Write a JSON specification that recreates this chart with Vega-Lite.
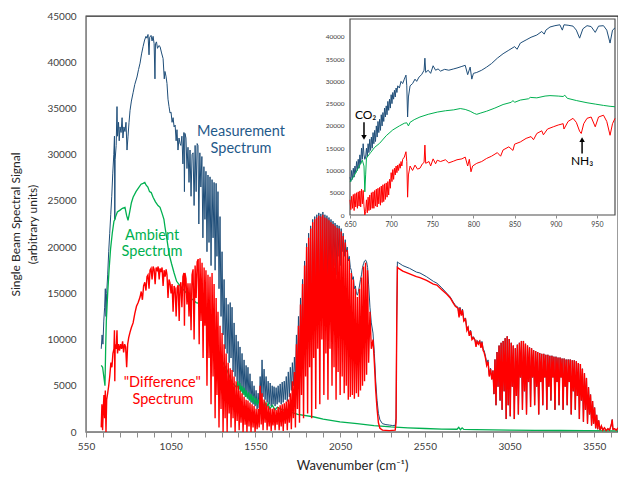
{
  "$schema": "https://vega.github.io/schema/vega-lite/v6.json",
  "width": 532,
  "height": 416,
  "autosize": {"type": "none"},
  "padding": {"left": 86, "top": 16, "right": 0, "bottom": 45},
  "config": {
    "font": "Lato",
    "view": {"stroke": "#262626", "strokeWidth": 1.3},
    "axis": {"grid": false, "labelFont": "Lato", "titleFont": "Lato", "labelColor": "#404040", "titleColor": "#262626", "domainColor": "#8c8c8c", "tickColor": "#8c8c8c", "titleFontWeight": "normal"}
  },
  "datasets": {
    "meas": [
      {"w":640,"v":9000},{"w":645,"v":10500},{"w":650,"v":9500},{"w":655,"v":12000},{"w":660,"v":13500},{"w":664,"v":15500},{"w":668,"v":12500},{"w":672,"v":15000},{"w":678,"v":17000},{"w":684,"v":19500},{"w":690,"v":21500},{"w":696,"v":23500},{"w":702,"v":25500},{"w":708,"v":28000},{"w":714,"v":30000},{"w":718,"v":32000},{"w":720,"v":23000},{"w":722,"v":29500},{"w":728,"v":31000},{"w":733,"v":35200},{"w":736,"v":32000},{"w":742,"v":33500},{"w":746,"v":31500},{"w":751,"v":33000},{"w":757,"v":32400},{"w":763,"v":34000},{"w":768,"v":31800},{"w":774,"v":33000},{"w":780,"v":32500},{"w":786,"v":33500},{"w":792,"v":30500},{"w":798,"v":32000},{"w":804,"v":33500},{"w":810,"v":34800},{"w":818,"v":35800},{"w":828,"v":36700},{"w":838,"v":37600},{"w":851,"v":38400},{"w":860,"v":39200},{"w":869,"v":39900},{"w":878,"v":40900},{"w":887,"v":41700},{"w":896,"v":42400},{"w":904,"v":42800},{"w":910,"v":42600},{"w":916,"v":43000},{"w":922,"v":40800},{"w":926,"v":42700},{"w":934,"v":42900},{"w":940,"v":42300},{"w":946,"v":42800},{"w":952,"v":42000},{"w":957,"v":38200},{"w":960,"v":42000},{"w":966,"v":42200},{"w":972,"v":41500},{"w":980,"v":41800},{"w":987,"v":41700},{"w":996,"v":41000},{"w":1005,"v":40400},{"w":1012,"v":38200},{"w":1016,"v":39000},{"w":1022,"v":38500},{"w":1028,"v":37700},{"w":1034,"v":36000},{"w":1040,"v":35200},{"w":1046,"v":34500},{"w":1052,"v":34600},{"w":1058,"v":33500},{"w":1064,"v":34000},{"w":1070,"v":33000},{"w":1076,"v":33200},{"w":1082,"v":31500},{"w":1087,"v":32700},{"w":1093,"v":30500},{"w":1099,"v":31800},{"w":1105,"v":31200},{"w":1110,"v":31000},{"w":1116,"v":32000},{"w":1122,"v":29000},{"w":1128,"v":32400},{"w":1131,"v":26000},{"w":1134,"v":32300},{"w":1140,"v":31800},{"w":1146,"v":28500},{"w":1152,"v":30800},{"w":1158,"v":27000},{"w":1164,"v":30500},{"w":1170,"v":25500},{"w":1176,"v":30000},{"w":1182,"v":30200},{"w":1188,"v":24500},{"w":1194,"v":31000},{"w":1200,"v":26000},{"w":1206,"v":31200},{"w":1211,"v":31000},{"w":1216,"v":22500},{"w":1222,"v":30200},{"w":1228,"v":26500},{"w":1234,"v":29800},{"w":1240,"v":21000},{"w":1246,"v":28700},{"w":1252,"v":23000},{"w":1258,"v":28200},{"w":1264,"v":19500},{"w":1270,"v":27800},{"w":1276,"v":20500},{"w":1282,"v":27600},{"w":1288,"v":18000},{"w":1294,"v":27300},{"w":1300,"v":21000},{"w":1306,"v":27000},{"w":1312,"v":17500},{"w":1318,"v":26900},{"w":1323,"v":19000},{"w":1329,"v":26000},{"w":1335,"v":15500},{"w":1341,"v":23300},{"w":1347,"v":12500},{"w":1353,"v":19500},{"w":1359,"v":10500},{"w":1365,"v":16500},{"w":1371,"v":9000},{"w":1377,"v":14500},{"w":1383,"v":8500},{"w":1389,"v":13800},{"w":1395,"v":7500},{"w":1401,"v":14000},{"w":1406,"v":8000},{"w":1412,"v":13500},{"w":1418,"v":6500},{"w":1424,"v":11800},{"w":1430,"v":6000},{"w":1436,"v":10500},{"w":1442,"v":5500},{"w":1448,"v":9800},{"w":1454,"v":5000},{"w":1459,"v":9200},{"w":1465,"v":4500},{"w":1471,"v":8500},{"w":1477,"v":4200},{"w":1483,"v":7800},{"w":1489,"v":4000},{"w":1495,"v":7200},{"w":1500,"v":3800},{"w":1506,"v":7000},{"w":1512,"v":3500},{"w":1518,"v":6300},{"w":1524,"v":3200},{"w":1530,"v":5500},{"w":1536,"v":3000},{"w":1542,"v":5000},{"w":1548,"v":2800},{"w":1554,"v":4500},{"w":1560,"v":2500},{"w":1566,"v":4200},{"w":1572,"v":2600},{"w":1578,"v":6000},{"w":1584,"v":3500},{"w":1589,"v":7800},{"w":1595,"v":3800},{"w":1601,"v":6800},{"w":1607,"v":3500},{"w":1613,"v":6000},{"w":1619,"v":3200},{"w":1625,"v":5500},{"w":1631,"v":3000},{"w":1637,"v":5300},{"w":1643,"v":2800},{"w":1649,"v":5000},{"w":1654,"v":3000},{"w":1660,"v":4900},{"w":1666,"v":2800},{"w":1672,"v":4800},{"w":1678,"v":3000},{"w":1684,"v":5000},{"w":1690,"v":3200},{"w":1696,"v":5200},{"w":1702,"v":3000},{"w":1708,"v":5400},{"w":1714,"v":3200},{"w":1720,"v":5500},{"w":1726,"v":3500},{"w":1732,"v":6000},{"w":1738,"v":3300},{"w":1744,"v":6500},{"w":1750,"v":3800},{"w":1756,"v":7000},{"w":1762,"v":4500},{"w":1768,"v":7500},{"w":1774,"v":5000},{"w":1780,"v":8100},{"w":1786,"v":5500},{"w":1792,"v":10500},{"w":1798,"v":6500},{"w":1804,"v":12500},{"w":1810,"v":7000},{"w":1816,"v":14500},{"w":1822,"v":9000},{"w":1828,"v":16500},{"w":1834,"v":8000},{"w":1840,"v":18500},{"w":1846,"v":11000},{"w":1852,"v":20400},{"w":1858,"v":9000},{"w":1864,"v":21500},{"w":1870,"v":12000},{"w":1876,"v":22300},{"w":1882,"v":10000},{"w":1888,"v":23000},{"w":1894,"v":13000},{"w":1900,"v":23300},{"w":1906,"v":11000},{"w":1912,"v":23500},{"w":1918,"v":14000},{"w":1924,"v":23700},{"w":1930,"v":12000},{"w":1936,"v":23600},{"w":1942,"v":15000},{"w":1948,"v":23800},{"w":1954,"v":13500},{"w":1960,"v":23500},{"w":1966,"v":16000},{"w":1972,"v":23400},{"w":1978,"v":14500},{"w":1984,"v":23200},{"w":1990,"v":17000},{"w":1996,"v":23000},{"w":2002,"v":16000},{"w":2008,"v":22800},{"w":2014,"v":18000},{"w":2020,"v":22600},{"w":2026,"v":17000},{"w":2032,"v":22400},{"w":2038,"v":19000},{"w":2044,"v":22300},{"w":2050,"v":18000},{"w":2056,"v":22000},{"w":2062,"v":19500},{"w":2068,"v":21500},{"w":2074,"v":19000},{"w":2080,"v":20800},{"w":2086,"v":19500},{"w":2092,"v":20000},{"w":2098,"v":18500},{"w":2104,"v":19000},{"w":2110,"v":17800},{"w":2116,"v":17500},{"w":2122,"v":16500},{"w":2128,"v":16800},{"w":2134,"v":15500},{"w":2140,"v":15800},{"w":2146,"v":15000},{"w":2152,"v":14800},{"w":2158,"v":15200},{"w":2164,"v":15800},{"w":2170,"v":16500},{"w":2176,"v":17000},{"w":2182,"v":17800},{"w":2188,"v":18200},{"w":2194,"v":18500},{"w":2200,"v":18600},{"w":2206,"v":18400},{"w":2212,"v":17800},{"w":2218,"v":16000},{"w":2226,"v":13500},{"w":2234,"v":11800},{"w":2244,"v":10700},{"w":2252,"v":8500},{"w":2260,"v":5500},{"w":2268,"v":3400},{"w":2276,"v":2000},{"w":2285,"v":1300},{"w":2300,"v":900},{"w":2320,"v":800},{"w":2340,"v":750},{"w":2360,"v":700},{"w":2375,"v":720},{"w":2380,"v":1500},{"w":2384,"v":12000},{"w":2388,"v":18400},{"w":2395,"v":18300},{"w":2420,"v":18000},{"w":2460,"v":17700},{"w":2500,"v":17300},{"w":2521,"v":17200},{"w":2560,"v":16800},{"w":2600,"v":16300},{"w":2621,"v":16100},{"w":2650,"v":15600},{"w":2680,"v":15000},{"w":2700,"v":14600},{"w":2716,"v":14100},{"w":2730,"v":13700},{"w":2745,"v":13500},{"w":2752,"v":12600},{"w":2757,"v":13500},{"w":2765,"v":12800},{"w":2772,"v":13300},{"w":2780,"v":12200},{"w":2790,"v":12300},{"w":2798,"v":11200},{"w":2805,"v":11400},{"w":2812,"v":10600},{"w":2820,"v":11000},{"w":2828,"v":10200},{"w":2837,"v":10300},{"w":2846,"v":10000},{"w":2852,"v":9400},{"w":2858,"v":9900},{"w":2866,"v":9700},{"w":2874,"v":9900},{"w":2881,"v":9300},{"w":2887,"v":9800},{"w":2894,"v":9000},{"w":2900,"v":8800},{"w":2908,"v":8200},{"w":2915,"v":7400},{"w":2923,"v":7800},{"w":2930,"v":6200},{"w":2938,"v":6900},{"w":2945,"v":5700},{"w":2952,"v":6650},{"w":2958,"v":4100},{"w":2964,"v":7850},{"w":2970,"v":2900},{"w":2976,"v":8650},{"w":2982,"v":4900},{"w":2988,"v":9350},{"w":2994,"v":3400},{"w":3000,"v":9650},{"w":3006,"v":2400},{"w":3012,"v":9850},{"w":3018,"v":4400},{"w":3024,"v":10150},{"w":3030,"v":1400},{"w":3036,"v":10350},{"w":3042,"v":2900},{"w":3048,"v":10050},{"w":3054,"v":1700},{"w":3060,"v":9650},{"w":3066,"v":4900},{"w":3072,"v":9350},{"w":3078,"v":1400},{"w":3084,"v":9050},{"w":3090,"v":3900},{"w":3096,"v":9450},{"w":3102,"v":1900},{"w":3108,"v":9650},{"w":3114,"v":5900},{"w":3120,"v":9850},{"w":3126,"v":2400},{"w":3132,"v":9850},{"w":3138,"v":4400},{"w":3144,"v":9550},{"w":3150,"v":1900},{"w":3156,"v":9350},{"w":3162,"v":5400},{"w":3168,"v":9150},{"w":3174,"v":2700},{"w":3180,"v":9050},{"w":3186,"v":5900},{"w":3192,"v":8850},{"w":3198,"v":2900},{"w":3204,"v":8750},{"w":3210,"v":4900},{"w":3216,"v":8650},{"w":3222,"v":1900},{"w":3228,"v":8550},{"w":3234,"v":5400},{"w":3240,"v":8450},{"w":3246,"v":2900},{"w":3252,"v":8450},{"w":3258,"v":5900},{"w":3264,"v":8350},{"w":3270,"v":2400},{"w":3276,"v":8350},{"w":3282,"v":4900},{"w":3288,"v":8250},{"w":3294,"v":3400},{"w":3300,"v":8250},{"w":3306,"v":5900},{"w":3312,"v":8150},{"w":3318,"v":2400},{"w":3324,"v":8150},{"w":3330,"v":5400},{"w":3336,"v":8050},{"w":3342,"v":2900},{"w":3348,"v":8050},{"w":3354,"v":5900},{"w":3360,"v":7950},{"w":3366,"v":2400},{"w":3372,"v":7950},{"w":3378,"v":4900},{"w":3384,"v":7850},{"w":3390,"v":2900},{"w":3396,"v":7850},{"w":3402,"v":5400},{"w":3408,"v":7850},{"w":3414,"v":1900},{"w":3420,"v":7750},{"w":3426,"v":4400},{"w":3432,"v":7750},{"w":3438,"v":2400},{"w":3444,"v":7650},{"w":3450,"v":3900},{"w":3456,"v":7450},{"w":3462,"v":1400},{"w":3468,"v":7350},{"w":3474,"v":3400},{"w":3480,"v":6850},{"w":3486,"v":1100},{"w":3492,"v":6350},{"w":3498,"v":2400},{"w":3504,"v":5850},{"w":3510,"v":900},{"w":3516,"v":4850},{"w":3522,"v":1900},{"w":3528,"v":4050},{"w":3534,"v":700},{"w":3540,"v":3350},{"w":3546,"v":900},{"w":3552,"v":2650},{"w":3558,"v":400},{"w":3564,"v":1850},{"w":3570,"v":300},{"w":3576,"v":1250},{"w":3584,"v":200},{"w":3592,"v":650},{"w":3600,"v":200},{"w":3610,"v":450},{"w":3620,"v":150},{"w":3630,"v":350},{"w":3640,"v":200},{"w":3650,"v":750},{"w":3656,"v":1350},{"w":3660,"v":300},{"w":3670,"v":350},{"w":3680,"v":200},{"w":3690,"v":450}
    ],
    "amb": [
      {"w":640,"v":7200},{"w":648,"v":7000},{"w":655,"v":6000},{"w":662,"v":5000},{"w":666,"v":9000},{"w":670,"v":12000},{"w":678,"v":15000},{"w":686,"v":17500},{"w":695,"v":19800},{"w":705,"v":21500},{"w":715,"v":22800},{"w":721,"v":23000},{"w":725,"v":23300},{"w":735,"v":23800},{"w":751,"v":24000},{"w":765,"v":24200},{"w":780,"v":24300},{"w":790,"v":23400},{"w":798,"v":22900},{"w":808,"v":23800},{"w":818,"v":24800},{"w":828,"v":25400},{"w":845,"v":26000},{"w":860,"v":26400},{"w":875,"v":26800},{"w":887,"v":26900},{"w":897,"v":27000},{"w":905,"v":26700},{"w":915,"v":26500},{"w":925,"v":26000},{"w":935,"v":25900},{"w":946,"v":25400},{"w":960,"v":24900},{"w":975,"v":24500},{"w":987,"v":24300},{"w":1000,"v":23600},{"w":1010,"v":23000},{"w":1016,"v":22200},{"w":1028,"v":20800},{"w":1040,"v":19300},{"w":1055,"v":18200},{"w":1070,"v":17200},{"w":1085,"v":16300},{"w":1105,"v":15800},{"w":1125,"v":15400},{"w":1150,"v":14900},{"w":1175,"v":14400},{"w":1200,"v":14000},{"w":1223,"v":13900},{"w":1250,"v":12700},{"w":1275,"v":11300},{"w":1300,"v":10700},{"w":1325,"v":9200},{"w":1350,"v":7800},{"w":1382,"v":6700},{"w":1410,"v":5400},{"w":1440,"v":4800},{"w":1446,"v":5500},{"w":1452,"v":4500},{"w":1458,"v":5300},{"w":1464,"v":4300},{"w":1470,"v":5000},{"w":1477,"v":4000},{"w":1483,"v":4800},{"w":1490,"v":3800},{"w":1496,"v":4500},{"w":1503,"v":3600},{"w":1510,"v":4300},{"w":1517,"v":3400},{"w":1524,"v":4100},{"w":1531,"v":3200},{"w":1538,"v":3900},{"w":1545,"v":3000},{"w":1552,"v":3700},{"w":1560,"v":2900},{"w":1568,"v":3500},{"w":1577,"v":2800},{"w":1585,"v":3400},{"w":1595,"v":2700},{"w":1605,"v":3300},{"w":1615,"v":2600},{"w":1625,"v":3100},{"w":1635,"v":2500},{"w":1650,"v":2900},{"w":1665,"v":2400},{"w":1680,"v":2700},{"w":1695,"v":2500},{"w":1750,"v":2200},{"w":1800,"v":1900},{"w":1890,"v":1650},{"w":1950,"v":1400},{"w":2049,"v":1100},{"w":2150,"v":900},{"w":2250,"v":700},{"w":2350,"v":550},{"w":2450,"v":450},{"w":2550,"v":380},{"w":2650,"v":320},{"w":2740,"v":300},{"w":2750,"v":500},{"w":2760,"v":250},{"w":2770,"v":450},{"w":2780,"v":280},{"w":2850,"v":250},{"w":2950,"v":220},{"w":3050,"v":200},{"w":3200,"v":180},{"w":3350,"v":160},{"w":3500,"v":150},{"w":3690,"v":130}
    ],
    "diff": [
      {"w":640,"v":500},{"w":644,"v":3000},{"w":648,"v":200},{"w":652,"v":2500},{"w":656,"v":4000},{"w":660,"v":1500},{"w":664,"v":4500},{"w":668,"v":0},{"w":672,"v":3500},{"w":678,"v":4200},{"w":684,"v":5000},{"w":690,"v":6000},{"w":697,"v":7500},{"w":703,"v":7000},{"w":709,"v":8500},{"w":715,"v":9000},{"w":718,"v":11000},{"w":720,"v":5500},{"w":722,"v":9500},{"w":728,"v":9000},{"w":733,"v":11000},{"w":736,"v":8500},{"w":742,"v":9500},{"w":748,"v":8800},{"w":754,"v":9500},{"w":760,"v":9000},{"w":766,"v":9800},{"w":772,"v":8600},{"w":778,"v":9500},{"w":784,"v":9200},{"w":790,"v":7000},{"w":796,"v":9500},{"w":802,"v":10200},{"w":810,"v":10800},{"w":818,"v":11300},{"w":828,"v":11800},{"w":838,"v":12800},{"w":848,"v":13600},{"w":858,"v":14000},{"w":869,"v":14600},{"w":876,"v":15200},{"w":883,"v":14300},{"w":890,"v":15800},{"w":897,"v":16200},{"w":904,"v":15300},{"w":910,"v":16800},{"w":916,"v":17000},{"w":922,"v":15500},{"w":928,"v":17500},{"w":934,"v":17700},{"w":940,"v":16500},{"w":946,"v":17900},{"w":952,"v":17600},{"w":958,"v":16000},{"w":964,"v":17800},{"w":970,"v":17500},{"w":976,"v":17900},{"w":982,"v":16500},{"w":987,"v":17700},{"w":993,"v":17300},{"w":999,"v":17800},{"w":1005,"v":15800},{"w":1011,"v":17500},{"w":1017,"v":16800},{"w":1023,"v":17600},{"w":1028,"v":17000},{"w":1034,"v":14500},{"w":1040,"v":16500},{"w":1046,"v":16100},{"w":1052,"v":15000},{"w":1058,"v":16000},{"w":1064,"v":13000},{"w":1070,"v":15800},{"w":1076,"v":15500},{"w":1082,"v":12500},{"w":1088,"v":15600},{"w":1094,"v":15900},{"w":1100,"v":12000},{"w":1105,"v":15700},{"w":1110,"v":16200},{"w":1116,"v":13500},{"w":1122,"v":16800},{"w":1128,"v":17200},{"w":1131,"v":11500},{"w":1134,"v":17200},{"w":1140,"v":16600},{"w":1146,"v":13800},{"w":1152,"v":16100},{"w":1158,"v":12500},{"w":1164,"v":16100},{"w":1170,"v":11000},{"w":1176,"v":17000},{"w":1182,"v":17600},{"w":1188,"v":10000},{"w":1194,"v":18000},{"w":1200,"v":14500},{"w":1206,"v":18400},{"w":1212,"v":18700},{"w":1218,"v":9500},{"w":1223,"v":18800},{"w":1229,"v":12000},{"w":1235,"v":18300},{"w":1241,"v":8000},{"w":1247,"v":17800},{"w":1252,"v":11500},{"w":1258,"v":17500},{"w":1264,"v":5000},{"w":1270,"v":17000},{"w":1276,"v":8000},{"w":1282,"v":16800},{"w":1288,"v":3000},{"w":1294,"v":17200},{"w":1300,"v":6000},{"w":1306,"v":16000},{"w":1312,"v":1500},{"w":1318,"v":14500},{"w":1323,"v":4000},{"w":1329,"v":13000},{"w":1335,"v":500},{"w":1341,"v":11500},{"w":1347,"v":2500},{"w":1353,"v":10700},{"w":1359,"v":0},{"w":1365,"v":9500},{"w":1371,"v":1500},{"w":1377,"v":8500},{"w":1383,"v":0},{"w":1389,"v":7500},{"w":1395,"v":2000},{"w":1401,"v":6900},{"w":1406,"v":500},{"w":1412,"v":6700},{"w":1418,"v":1500},{"w":1424,"v":6000},{"w":1430,"v":0},{"w":1436,"v":5500},{"w":1442,"v":1200},{"w":1448,"v":5000},{"w":1454,"v":200},{"w":1459,"v":4500},{"w":1465,"v":1000},{"w":1471,"v":4200},{"w":1477,"v":0},{"w":1483,"v":3800},{"w":1489,"v":800},{"w":1495,"v":3500},{"w":1500,"v":0},{"w":1506,"v":3400},{"w":1512,"v":600},{"w":1518,"v":3200},{"w":1524,"v":0},{"w":1530,"v":3000},{"w":1536,"v":500},{"w":1542,"v":2800},{"w":1548,"v":0},{"w":1554,"v":2500},{"w":1560,"v":300},{"w":1566,"v":2500},{"w":1572,"v":500},{"w":1578,"v":5000},{"w":1584,"v":800},{"w":1589,"v":4200},{"w":1595,"v":200},{"w":1601,"v":3500},{"w":1607,"v":1000},{"w":1613,"v":3200},{"w":1619,"v":200},{"w":1625,"v":2800},{"w":1631,"v":600},{"w":1637,"v":2600},{"w":1643,"v":100},{"w":1649,"v":2500},{"w":1654,"v":700},{"w":1660,"v":2600},{"w":1666,"v":200},{"w":1672,"v":2400},{"w":1678,"v":800},{"w":1684,"v":2700},{"w":1690,"v":200},{"w":1696,"v":2900},{"w":1702,"v":600},{"w":1708,"v":3000},{"w":1714,"v":100},{"w":1720,"v":3100},{"w":1726,"v":900},{"w":1732,"v":3300},{"w":1738,"v":200},{"w":1744,"v":3500},{"w":1750,"v":1000},{"w":1756,"v":4200},{"w":1762,"v":300},{"w":1768,"v":5500},{"w":1774,"v":1500},{"w":1780,"v":6500},{"w":1786,"v":500},{"w":1792,"v":9500},{"w":1798,"v":2500},{"w":1804,"v":11500},{"w":1810,"v":1000},{"w":1816,"v":13800},{"w":1822,"v":4000},{"w":1828,"v":16000},{"w":1834,"v":1500},{"w":1840,"v":18000},{"w":1846,"v":6000},{"w":1852,"v":20000},{"w":1858,"v":2000},{"w":1864,"v":21000},{"w":1870,"v":7000},{"w":1876,"v":22000},{"w":1882,"v":1500},{"w":1888,"v":22700},{"w":1894,"v":8000},{"w":1900,"v":23000},{"w":1906,"v":2500},{"w":1912,"v":23200},{"w":1918,"v":9000},{"w":1924,"v":23400},{"w":1930,"v":3000},{"w":1936,"v":23300},{"w":1942,"v":10000},{"w":1948,"v":23500},{"w":1954,"v":4000},{"w":1960,"v":23200},{"w":1966,"v":8500},{"w":1972,"v":23100},{"w":1978,"v":3500},{"w":1984,"v":22900},{"w":1990,"v":9000},{"w":1996,"v":22700},{"w":2002,"v":5000},{"w":2008,"v":22500},{"w":2014,"v":7000},{"w":2020,"v":22300},{"w":2026,"v":3500},{"w":2032,"v":22100},{"w":2038,"v":6500},{"w":2044,"v":22000},{"w":2050,"v":4000},{"w":2056,"v":21700},{"w":2062,"v":6000},{"w":2068,"v":21200},{"w":2074,"v":4200},{"w":2080,"v":20500},{"w":2086,"v":5000},{"w":2092,"v":19700},{"w":2098,"v":3500},{"w":2104,"v":18700},{"w":2110,"v":3800},{"w":2116,"v":17200},{"w":2122,"v":4000},{"w":2128,"v":16500},{"w":2134,"v":3600},{"w":2140,"v":15500},{"w":2146,"v":4200},{"w":2152,"v":14600},{"w":2158,"v":3800},{"w":2164,"v":15500},{"w":2170,"v":4500},{"w":2176,"v":16700},{"w":2182,"v":5000},{"w":2188,"v":17900},{"w":2194,"v":5500},{"w":2200,"v":18300},{"w":2206,"v":6200},{"w":2212,"v":17500},{"w":2218,"v":7500},{"w":2226,"v":13000},{"w":2234,"v":9000},{"w":2244,"v":10000},{"w":2252,"v":7500},{"w":2260,"v":4500},{"w":2268,"v":2500},{"w":2276,"v":1000},{"w":2285,"v":400},{"w":2300,"v":200},{"w":2340,"v":150},{"w":2375,"v":200},{"w":2380,"v":1000},{"w":2384,"v":11500},{"w":2388,"v":17800},{"w":2395,"v":17700},{"w":2420,"v":17400},{"w":2460,"v":17100},{"w":2500,"v":16800},{"w":2521,"v":16700},{"w":2560,"v":16400},{"w":2600,"v":16000},{"w":2621,"v":15900},{"w":2650,"v":15400},{"w":2680,"v":14900},{"w":2700,"v":14500},{"w":2716,"v":14000},{"w":2730,"v":13600},{"w":2745,"v":13400},{"w":2752,"v":12400},{"w":2757,"v":13400},{"w":2765,"v":12600},{"w":2772,"v":13200},{"w":2780,"v":12000},{"w":2790,"v":12200},{"w":2798,"v":11000},{"w":2805,"v":11300},{"w":2812,"v":10400},{"w":2820,"v":10900},{"w":2828,"v":10000},{"w":2837,"v":10200},{"w":2846,"v":9900},{"w":2852,"v":9200},{"w":2858,"v":9800},{"w":2866,"v":9500},{"w":2874,"v":9800},{"w":2881,"v":9100},{"w":2887,"v":9700},{"w":2894,"v":8800},{"w":2900,"v":8600},{"w":2908,"v":8000},{"w":2915,"v":7200},{"w":2923,"v":7600},{"w":2930,"v":6000},{"w":2938,"v":6800},{"w":2945,"v":5700},{"w":2952,"v":6650},{"w":2958,"v":4100},{"w":2964,"v":7850},{"w":2970,"v":2900},{"w":2976,"v":8650},{"w":2982,"v":4900},{"w":2988,"v":9350},{"w":2994,"v":3400},{"w":3000,"v":9650},{"w":3006,"v":2400},{"w":3012,"v":9850},{"w":3018,"v":4400},{"w":3024,"v":10150},{"w":3030,"v":1400},{"w":3036,"v":10350},{"w":3042,"v":2900},{"w":3048,"v":10050},{"w":3054,"v":1700},{"w":3060,"v":9650},{"w":3066,"v":4900},{"w":3072,"v":9350},{"w":3078,"v":1400},{"w":3084,"v":9050},{"w":3090,"v":3900},{"w":3096,"v":9450},{"w":3102,"v":1900},{"w":3108,"v":9650},{"w":3114,"v":5900},{"w":3120,"v":9850},{"w":3126,"v":2400},{"w":3132,"v":9850},{"w":3138,"v":4400},{"w":3144,"v":9550},{"w":3150,"v":1900},{"w":3156,"v":9350},{"w":3162,"v":5400},{"w":3168,"v":9150},{"w":3174,"v":2700},{"w":3180,"v":9050},{"w":3186,"v":5900},{"w":3192,"v":8850},{"w":3198,"v":2900},{"w":3204,"v":8750},{"w":3210,"v":4900},{"w":3216,"v":8650},{"w":3222,"v":1900},{"w":3228,"v":8550},{"w":3234,"v":5400},{"w":3240,"v":8450},{"w":3246,"v":2900},{"w":3252,"v":8450},{"w":3258,"v":5900},{"w":3264,"v":8350},{"w":3270,"v":2400},{"w":3276,"v":8350},{"w":3282,"v":4900},{"w":3288,"v":8250},{"w":3294,"v":3400},{"w":3300,"v":8250},{"w":3306,"v":5900},{"w":3312,"v":8150},{"w":3318,"v":2400},{"w":3324,"v":8150},{"w":3330,"v":5400},{"w":3336,"v":8050},{"w":3342,"v":2900},{"w":3348,"v":8050},{"w":3354,"v":5900},{"w":3360,"v":7950},{"w":3366,"v":2400},{"w":3372,"v":7950},{"w":3378,"v":4900},{"w":3384,"v":7850},{"w":3390,"v":2900},{"w":3396,"v":7850},{"w":3402,"v":5400},{"w":3408,"v":7850},{"w":3414,"v":1900},{"w":3420,"v":7750},{"w":3426,"v":4400},{"w":3432,"v":7750},{"w":3438,"v":2400},{"w":3444,"v":7650},{"w":3450,"v":3900},{"w":3456,"v":7450},{"w":3462,"v":1400},{"w":3468,"v":7350},{"w":3474,"v":3400},{"w":3480,"v":6850},{"w":3486,"v":1100},{"w":3492,"v":6350},{"w":3498,"v":2400},{"w":3504,"v":5850},{"w":3510,"v":900},{"w":3516,"v":4850},{"w":3522,"v":1900},{"w":3528,"v":4050},{"w":3534,"v":700},{"w":3540,"v":3350},{"w":3546,"v":900},{"w":3552,"v":2650},{"w":3558,"v":400},{"w":3564,"v":1850},{"w":3570,"v":300},{"w":3576,"v":1250},{"w":3584,"v":200},{"w":3592,"v":650},{"w":3600,"v":200},{"w":3610,"v":450},{"w":3620,"v":150},{"w":3630,"v":350},{"w":3640,"v":200},{"w":3650,"v":750},{"w":3656,"v":1350},{"w":3660,"v":300},{"w":3670,"v":350},{"w":3680,"v":200},{"w":3690,"v":450}
    ],
    "imeas": [
      {"w":650,"v":8500},{"w":651,"v":7500},{"w":652,"v":10000},{"w":653,"v":8000},{"w":654,"v":10500},{"w":655,"v":8500},{"w":656,"v":11000},{"w":657,"v":9500},{"w":658,"v":12000},{"w":659,"v":10000},{"w":660,"v":12500},{"w":661,"v":10500},{"w":662,"v":13500},{"w":663,"v":11500},{"w":664,"v":15000},{"w":665,"v":12500},{"w":666,"v":16000},{"w":667,"v":13500},{"w":668,"v":12500},{"w":669,"v":13000},{"w":670,"v":15000},{"w":671,"v":13000},{"w":672,"v":16000},{"w":673,"v":14000},{"w":674,"v":17000},{"w":675,"v":14500},{"w":676,"v":17500},{"w":677,"v":15000},{"w":678,"v":18500},{"w":679,"v":16000},{"w":680,"v":19000},{"w":681,"v":16500},{"w":682,"v":20000},{"w":683,"v":17500},{"w":684,"v":21000},{"w":685,"v":18500},{"w":686,"v":21500},{"w":687,"v":19000},{"w":688,"v":22500},{"w":689,"v":20000},{"w":690,"v":23000},{"w":691,"v":21000},{"w":692,"v":24000},{"w":693,"v":22000},{"w":694,"v":24500},{"w":695,"v":22500},{"w":696,"v":25500},{"w":697,"v":23500},{"w":698,"v":26000},{"w":699,"v":24000},{"w":700,"v":27000},{"w":701,"v":25000},{"w":702,"v":27500},{"w":703,"v":26000},{"w":704,"v":28000},{"w":705,"v":26500},{"w":706,"v":28500},{"w":707,"v":27500},{"w":708,"v":29000},{"w":710,"v":28500},{"w":712,"v":30000},{"w":714,"v":29500},{"w":716,"v":30500},{"w":718,"v":31400},{"w":719,"v":29000},{"w":720,"v":22000},{"w":721,"v":26500},{"w":723,"v":29000},{"w":726,"v":29500},{"w":729,"v":30500},{"w":731,"v":30000},{"w":734,"v":31000},{"w":737,"v":31500},{"w":740,"v":32500},{"w":741,"v":35200},{"w":742,"v":32000},{"w":745,"v":32500},{"w":748,"v":31800},{"w":751,"v":33500},{"w":754,"v":32500},{"w":757,"v":32800},{"w":760,"v":32300},{"w":765,"v":32700},{"w":770,"v":32500},{"w":776,"v":32800},{"w":780,"v":33000},{"w":785,"v":33300},{"w":790,"v":33600},{"w":793,"v":31500},{"w":796,"v":33200},{"w":798,"v":30500},{"w":800,"v":31800},{"w":804,"v":32000},{"w":810,"v":32500},{"w":816,"v":33200},{"w":822,"v":34000},{"w":829,"v":35200},{"w":836,"v":36200},{"w":843,"v":37000},{"w":850,"v":37800},{"w":853,"v":37200},{"w":857,"v":38600},{"w":864,"v":39300},{"w":870,"v":39900},{"w":877,"v":40400},{"w":883,"v":41200},{"w":886,"v":40600},{"w":888,"v":41500},{"w":893,"v":42200},{"w":899,"v":42500},{"w":905,"v":42700},{"w":908,"v":41500},{"w":910,"v":42700},{"w":915,"v":42600},{"w":921,"v":42400},{"w":925,"v":41500},{"w":929,"v":39700},{"w":933,"v":41800},{"w":938,"v":42500},{"w":943,"v":42300},{"w":948,"v":41000},{"w":952,"v":42400},{"w":958,"v":42500},{"w":962,"v":41500},{"w":966,"v":38600},{"w":969,"v":41500},{"w":972,"v":42000}
    ],
    "iamb": [
      {"w":650,"v":7400},{"w":655,"v":8800},{"w":660,"v":10500},{"w":665,"v":12300},{"w":667,"v":11000},{"w":668,"v":5200},{"w":669,"v":9000},{"w":670,"v":12800},{"w":675,"v":14000},{"w":680,"v":15200},{"w":686,"v":16100},{"w":694,"v":17800},{"w":702,"v":19100},{"w":710,"v":20000},{"w":716,"v":20600},{"w":719,"v":20700},{"w":721,"v":20000},{"w":723,"v":20800},{"w":728,"v":21400},{"w":735,"v":22000},{"w":745,"v":22600},{"w":756,"v":23100},{"w":766,"v":23400},{"w":776,"v":23600},{"w":784,"v":23900},{"w":790,"v":23700},{"w":796,"v":23300},{"w":801,"v":22800},{"w":804,"v":22600},{"w":809,"v":22900},{"w":816,"v":23300},{"w":826,"v":24000},{"w":836,"v":24800},{"w":846,"v":25300},{"w":848,"v":25700},{"w":850,"v":25300},{"w":857,"v":25800},{"w":867,"v":26100},{"w":869,"v":26400},{"w":877,"v":26300},{"w":887,"v":26700},{"w":893,"v":26800},{"w":903,"v":26700},{"w":909,"v":26600},{"w":911,"v":26900},{"w":914,"v":26200},{"w":925,"v":25700},{"w":938,"v":25200},{"w":948,"v":24900},{"w":958,"v":24600},{"w":966,"v":24400},{"w":972,"v":24300}
    ],
    "idiff": [
      {"w":650,"v":3400},{"w":651,"v":1200},{"w":652,"v":4200},{"w":653,"v":1500},{"w":654,"v":4600},{"w":655,"v":1000},{"w":656,"v":4800},{"w":657,"v":1800},{"w":658,"v":5000},{"w":659,"v":1500},{"w":660,"v":5200},{"w":661,"v":2000},{"w":662,"v":5400},{"w":663,"v":1800},{"w":664,"v":5800},{"w":665,"v":2500},{"w":666,"v":5500},{"w":667,"v":2000},{"w":668,"v":0},{"w":669,"v":800},{"w":670,"v":3400},{"w":671,"v":500},{"w":672,"v":4000},{"w":673,"v":1000},{"w":674,"v":4500},{"w":675,"v":1200},{"w":676,"v":5000},{"w":677,"v":1500},{"w":678,"v":5200},{"w":679,"v":1500},{"w":680,"v":5500},{"w":681,"v":2000},{"w":682,"v":5800},{"w":683,"v":1800},{"w":684,"v":6000},{"w":685,"v":2500},{"w":686,"v":6200},{"w":687,"v":2200},{"w":688,"v":6500},{"w":689,"v":2800},{"w":690,"v":6800},{"w":691,"v":3000},{"w":692,"v":7000},{"w":693,"v":3500},{"w":694,"v":7200},{"w":695,"v":4000},{"w":696,"v":7500},{"w":697,"v":4500},{"w":698,"v":8000},{"w":699,"v":6000},{"w":700,"v":9500},{"w":701,"v":7500},{"w":702,"v":10200},{"w":703,"v":8000},{"w":704,"v":10500},{"w":705,"v":9000},{"w":706,"v":11000},{"w":707,"v":9500},{"w":708,"v":11200},{"w":709,"v":10000},{"w":710,"v":11500},{"w":711,"v":10500},{"w":712,"v":12000},{"w":713,"v":11000},{"w":714,"v":12500},{"w":716,"v":13000},{"w":718,"v":14200},{"w":719,"v":12000},{"w":720,"v":4000},{"w":721,"v":9000},{"w":723,"v":11000},{"w":726,"v":10000},{"w":729,"v":11200},{"w":732,"v":10300},{"w":735,"v":10500},{"w":738,"v":11500},{"w":740,"v":11800},{"w":741,"v":15700},{"w":742,"v":11600},{"w":746,"v":12000},{"w":748,"v":11000},{"w":751,"v":12600},{"w":754,"v":11500},{"w":756,"v":12300},{"w":760,"v":12000},{"w":766,"v":12400},{"w":770,"v":11700},{"w":776,"v":12100},{"w":780,"v":12400},{"w":786,"v":12600},{"w":790,"v":13000},{"w":793,"v":11000},{"w":795,"v":12500},{"w":797,"v":9700},{"w":799,"v":11000},{"w":804,"v":11600},{"w":810,"v":12000},{"w":816,"v":12700},{"w":822,"v":13200},{"w":829,"v":14000},{"w":833,"v":13200},{"w":836,"v":14600},{"w":843,"v":15300},{"w":848,"v":14500},{"w":850,"v":15900},{"w":857,"v":16400},{"w":864,"v":17200},{"w":870,"v":17600},{"w":873,"v":16900},{"w":877,"v":18300},{"w":883,"v":18900},{"w":885,"v":18000},{"w":890,"v":19300},{"w":897,"v":19800},{"w":903,"v":20200},{"w":909,"v":20500},{"w":910,"v":19300},{"w":915,"v":21000},{"w":921,"v":21700},{"w":925,"v":20800},{"w":929,"v":18800},{"w":931,"v":18300},{"w":934,"v":20500},{"w":938,"v":21700},{"w":943,"v":22000},{"w":948,"v":19800},{"w":952,"v":22000},{"w":958,"v":22400},{"w":962,"v":21000},{"w":966,"v":17900},{"w":969,"v":20500},{"w":972,"v":21700}
    ],
    "labels": [
      {"k":"m","t":"Measurement","w":1465,"v":32500},
      {"k":"m","t":"Spectrum","w":1465,"v":30660},
      {"k":"a","t":"Ambient","w":940,"v":21250},
      {"k":"a","t":"Spectrum","w":940,"v":19420},
      {"k":"d","t":"\"Difference\"","w":1000,"v":5250},
      {"k":"d","t":"Spectrum","w":1004,"v":3410}
    ],
    "iframe": [
      {"w":650,"w2":972,"v":0,"v2":44000}
    ],
    "ilabels": [
      {"t":"CO₂","w":669,"v":22430},
      {"t":"NH₃","w":932,"v":12110}
    ],
    "iarrows": [
      {"w":667,"v":20800,"v2":17400},
      {"w":932,"v":13800,"v2":16900}
    ]
  },
  "layer": [
    {
      "encoding": {
        "x": {"field": "w", "type": "quantitative", "scale": {"domain": [550, 3690], "nice": false, "zero": false},
          "axis": {"orient": "bottom", "title": "Wavenumber (cm⁻¹)", "values": [550,650,750,850,950,1050,1150,1250,1350,1450,1550,1650,1750,1850,1950,2050,2150,2250,2350,2450,2550,2650,2750,2850,2950,3050,3150,3250,3350,3450,3550,3650],
            "labelExpr": "(datum.value - 550) % 500 == 0 ? datum.value : ''", "labelOverlap": false, "labelFlush": false, "tickSize": 5, "labelFontSize": 10, "labelPadding": 4, "titleFontSize": 13, "titlePadding": 8}},
        "y": {"field": "v", "type": "quantitative", "scale": {"domain": [0, 45000], "nice": false},
          "axis": {"orient": "left", "title": ["Single Beam Spectral Signal", "(arbitrary units)"], "values": [0,5000,10000,15000,20000,25000,30000,35000,40000,45000], "format": "d", "ticks": false, "labelPadding": 10, "labelFontSize": 10, "titleFontSize": 12, "titlePadding": 7, "titleLineHeight": 17}}
      },
      "layer": [
        {"data": {"name": "meas"}, "mark": {"type": "line", "color": "#1F4E79", "strokeWidth": 1, "clip": true}},
        {"data": {"name": "amb"}, "mark": {"type": "line", "color": "#00B050", "strokeWidth": 1.3, "clip": true}},
        {"data": {"name": "diff"}, "mark": {"type": "line", "color": "#FF0000", "strokeWidth": 1.4, "clip": true}},
        {"data": {"name": "labels"}, "transform": [{"filter": "datum.k == 'm'"}], "mark": {"type": "text", "color": "#1F5A8A", "fontSize": 14.5}, "encoding": {"text": {"field": "t", "type": "nominal"}}},
        {"data": {"name": "labels"}, "transform": [{"filter": "datum.k == 'a'"}], "mark": {"type": "text", "color": "#00B050", "fontSize": 14.5}, "encoding": {"text": {"field": "t", "type": "nominal"}}},
        {"data": {"name": "labels"}, "transform": [{"filter": "datum.k == 'd'"}], "mark": {"type": "text", "color": "#FF0000", "fontSize": 14.5}, "encoding": {"text": {"field": "t", "type": "nominal"}}}
      ]
    },
    {
      "encoding": {
        "x": {"field": "w", "type": "quantitative", "scale": {"domain": [650, 972], "range": [264, 529], "nice": false, "zero": false},
          "axis": {"orient": "bottom", "offset": -217, "title": null, "values": [650,700,750,800,850,900,950], "format": "d", "labelFontSize": 7, "tickSize": 3, "domain": false, "labelPadding": 2, "labelFlush": false, "zindex": 1}},
        "y": {"field": "v", "type": "quantitative", "scale": {"domain": [0, 44000], "range": [199, 3], "nice": false},
          "axis": {"orient": "left", "offset": -264, "title": null, "values": [0,5000,10000,15000,20000,25000,30000,35000,40000], "format": "d", "labelFontSize": 6.5, "ticks": false, "domain": false, "labelPadding": 6, "zindex": 1}}
      },
      "layer": [
        {"data": {"name": "iframe"}, "mark": {"type": "rect", "fill": "#ffffff", "stroke": "#4d4d4d", "strokeWidth": 1.2},
          "encoding": {"x2": {"field": "w2"}, "y2": {"field": "v2"}}},
        {"data": {"name": "imeas"}, "mark": {"type": "line", "color": "#1F4E79", "strokeWidth": 1, "clip": true}},
        {"data": {"name": "iamb"}, "mark": {"type": "line", "color": "#00B050", "strokeWidth": 1, "clip": true}},
        {"data": {"name": "idiff"}, "mark": {"type": "line", "color": "#FF0000", "strokeWidth": 1, "clip": true}},
        {"data": {"name": "ilabels"}, "mark": {"type": "text", "color": "#000000", "fontSize": 12}, "encoding": {"text": {"field": "t", "type": "nominal"}}},
        {"data": {"name": "iarrows"}, "mark": {"type": "rule", "color": "#000000", "strokeWidth": 1.5}, "encoding": {"y2": {"field": "v2"}}},
        {"data": {"name": "iarrows"}, "transform": [{"filter": "datum.v2 < datum.v"}], "mark": {"type": "point", "shape": "triangle-down", "filled": true, "color": "#000000", "size": 30, "opacity": 1}, "encoding": {"y": {"field": "v2", "type": "quantitative"}}},
        {"data": {"name": "iarrows"}, "transform": [{"filter": "datum.v2 > datum.v"}], "mark": {"type": "point", "shape": "triangle-up", "filled": true, "color": "#000000", "size": 30, "opacity": 1}, "encoding": {"y": {"field": "v2", "type": "quantitative"}}}
      ]
    }
  ],
  "resolve": {"scale": {"x": "independent", "y": "independent"}, "axis": {"x": "independent", "y": "independent"}}
}
